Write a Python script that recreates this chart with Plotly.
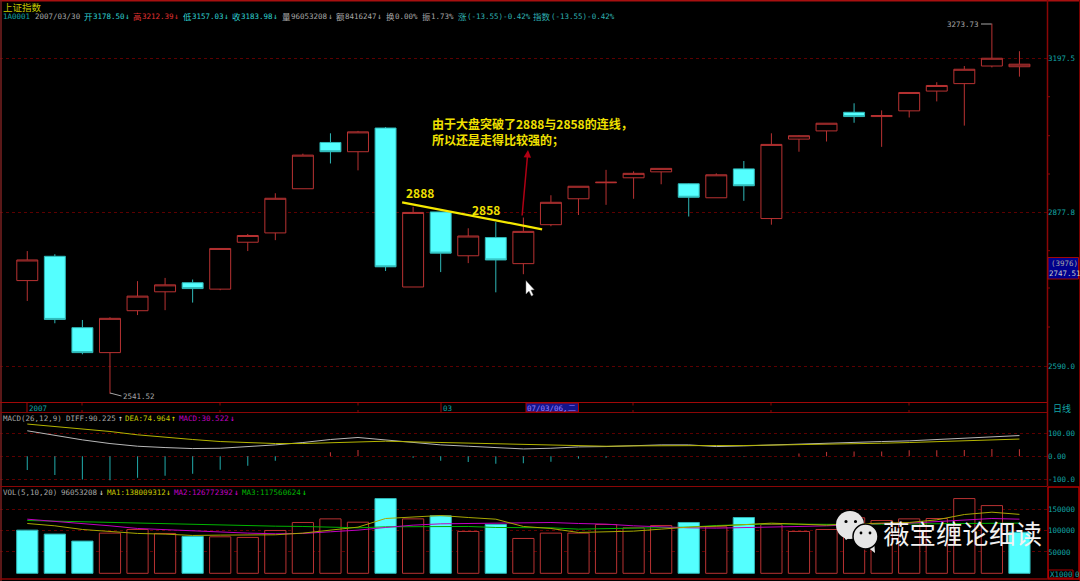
import plotly.graph_objects as go

W, H = 1080, 581

# ---------- data ----------
body_top = [2785,2792,2659,2676,2717,2738,2742,2807,2832,2905,2992,3018,3040,3048,2877,2878,2831,2828,2840,2897,2929,2937,2955,2965,2934,2952,2964,3014,3032,3058,3081,3074,3123,3138,3173,3197,3183.98]
body_bot = [2746,2674,2614,2614,2690,2725,2731,2730,2819,2837,2924,2999,2999,2772,2734,2798,2793,2785,2778,2853,2904,2936,2946,2958,2907,2906,2930,2865,3025,3042,3072,3072,3084,3126,3142,3180,3178.5]
high = [2802,2796,2673,2678,2745,2751,2748,2807,2835,2915,2995,3037,3042,3050,2888,2878,2846,2858,2867,2911,2929,2962,2959,2965,2935,2955,2980,3037,3033,3058,3100,3085,3123,3145,3180,3273.73,3212.39]
low = [2708,2667,2611,2541.52,2682,2691,2705,2728,2802,2823,2924,2975,2961,2764,2734,2762,2779,2724,2758,2850,2872,2892,2904,2933,2869,2906,2900,2853,2999,3020,3059,3009,3070,3104,3053,3177,3157.03]
falling = [1,2,6,11,13,15,17,24,26,30]

volume = [101100,91800,75400,94100,102600,93300,86300,85500,84000,100300,119000,127500,119700,175000,127500,134500,98000,114300,81600,94100,94100,114300,106500,112000,119000,108900,130600,114300,98000,102600,130000,123600,127500,128300,175000,158600,96053]
vol_down = [0,1,2,6,13,15,17,24,26,36]
vol_ma1 = [116640,111200,102640,97200,93310,91760,88650,89420,89420,90200,94090,101090,108090,128300,131410,135300,130640,126750,109640,104980,95640,97980,98760,103420,108090,110420,113530,117420,115090,112750,115860,116640,118970,125190,137640,143080,138009]
vol_ma2 = [126750,122080,115860,111200,104980,101870,98760,96420,94090,92530,93310,97200,101090,107310,112750,115860,116640,118970,118970,118970,116640,115090,111200,108090,106530,105750,106530,108090,109640,111200,114310,116640,117420,120530,124420,128300,126772]
vol_ma3 = [123650,122100,119750,118200,116650,115100,113550,112750,111200,110400,109650,108100,106550,108850,109650,109650,109650,107300,106550,106550,103400,105000,106550,107300,108100,111950,114300,115850,115100,114300,114300,115100,115850,116650,116650,116650,117560]

diff = [111.0,90.5,71.5,55.5,43.8,38.0,33.6,35.0,40.9,49.6,59.9,73.0,81.8,71.5,59.9,49.6,43.8,38.0,32.1,35.0,40.9,42.3,46.7,49.6,49.6,42.3,45.3,49.6,52.6,58.4,61.3,64.2,67.2,73.0,78.8,86.1,90.225]
dea = [140.2,129.9,119.7,108.0,93.4,81.8,73.0,64.2,58.4,55.5,55.5,59.9,64.2,65.7,62.8,59.9,55.5,52.6,49.6,46.7,43.8,43.8,45.3,46.7,46.7,46.7,46.7,48.2,49.6,51.1,54.0,56.9,59.9,64.2,68.6,73.0,74.964]
macd = [-59.9,-81.8,-100.7,-103.7,-93.4,-84.7,-75.9,-58.4,-40.9,-19.0,-1.5,17.5,27.7,0.0,-5.8,-19.0,-24.8,-32.1,-30.7,-23.4,-10.2,-5.8,1.5,1.5,0.0,0.0,-1.5,1.5,11.7,19.0,20.4,20.4,26.3,26.3,27.7,32.1,30.522]

trend_x = [13.6, 18.68]
trend_y = [2897, 2844]

days = list(range(len(high)))
opens = [body_top[i] if i in falling else body_bot[i] for i in days]
closes = [body_bot[i] if i in falling else body_top[i] for i in days]

# ---------- styling ----------
RED = "#b83232"
CYAN = "#54ffff"
TEAL = "#2fb8b8"
GRID = "#5c0000"
FRAME = "#8a0606"
LBL = "#12a5a5"
GRAY = "#a6a6a6"
YEL = "#c8c800"
MAG = "#c000c0"
GRN = "#00b400"
MONO = "DejaVu Sans Mono"
CJK = "Noto Sans CJK SC"

px = lambda x: x / W
py = lambda y: 1 - y / H

fig = go.Figure()
fig.add_trace(go.Candlestick(
    x=days, open=opens, high=high, low=low, close=closes,
    xaxis="x", yaxis="y", whiskerwidth=0,
    increasing=dict(line=dict(color=RED, width=1), fillcolor="#000000"),
    decreasing=dict(line=dict(color=TEAL, width=1), fillcolor=CYAN),
    showlegend=False, hoverinfo="skip"))
fig.add_trace(go.Scatter(x=trend_x, y=trend_y, mode="lines", xaxis="x", yaxis="y",
                         line=dict(color="#f5e800", width=2.2), showlegend=False))

fig.add_trace(go.Bar(x=days, y=macd, xaxis="x2", yaxis="y2", width=0.04,
                     marker=dict(color=[RED if v > 0 else "#1e9c9c" for v in macd], line=dict(width=0)),
                     showlegend=False))
fig.add_trace(go.Scatter(x=days, y=diff, mode="lines", xaxis="x2", yaxis="y2",
                         line=dict(color="#b8b8b8", width=1), showlegend=False))
fig.add_trace(go.Scatter(x=days, y=dea, mode="lines", xaxis="x2", yaxis="y2",
                         line=dict(color="#b4b400", width=1), showlegend=False))

fig.add_trace(go.Bar(x=days, y=volume, xaxis="x3", yaxis="y3", width=0.77,
                     marker=dict(color=[CYAN if i in vol_down else "#000000" for i in days],
                                 line=dict(color=[TEAL if i in vol_down else RED for i in days], width=1)),
                     showlegend=False))
for s, col in ((vol_ma3, GRN), (vol_ma2, MAG), (vol_ma1, "#a8a800")):
    fig.add_trace(go.Scatter(x=days, y=s, mode="lines", xaxis="x3", yaxis="y3",
                             line=dict(color=col, width=1), showlegend=False))

xr = [-0.99, 37.0]
xdom = [0, 1047 / W]
xcommon = dict(range=xr, domain=xdom, visible=False, fixedrange=True)
tickf = dict(family=MONO, size=7.5, color=LBL)
ycommon = dict(side="right", showgrid=True, gridcolor=GRID, griddash="dot", gridwidth=1,
               zeroline=False, showline=False, ticks="", tickfont=tickf, tickmode="array", fixedrange=True)

shapes = []
def line(x0, y0, x1, y1, color=FRAME, width=1, dash="solid", layer="above"):
    shapes.append(dict(type="line", xref="paper", yref="paper", x0=px(x0), x1=px(x1), y0=py(y0), y1=py(y1),
                       line=dict(color=color, width=width, dash=dash), layer=layer))
def rect(x0, y0, x1, y1, fill=None, color=FRAME, width=1):
    shapes.append(dict(type="rect", xref="paper", yref="paper", x0=px(x0), x1=px(x1), y0=py(y0), y1=py(y1),
                       fillcolor=fill if fill else "rgba(0,0,0,0)", line=dict(color=color, width=width), layer="above"))
def circle(cx, cy, r, fill, color=None, width=0):
    shapes.append(dict(type="circle", xref="paper", yref="paper", x0=px(cx - r), x1=px(cx + r), y0=py(cy + r), y1=py(cy - r),
                       fillcolor=fill, line=dict(color=color or fill, width=width), layer="above"))
def poly(points, fill, color=None, width=0):
    d = "M" + " L".join(f"{px(x):.5f},{py(y):.5f}" for x, y in points) + " Z"
    shapes.append(dict(type="path", xref="paper", yref="paper", path=d, fillcolor=fill,
                       line=dict(color=color or fill, width=width), layer="above"))

# frame
line(0, 0.7, 1080, 0.7, "#a81010", 1.5)
line(1, 0, 1, 581, "#7a2020", 1.5)
line(1079.5, 0, 1079.5, 581, "#7a0000", 1)
line(0, 402.5, 1047, 402.5, "#a00808", 1)
line(0, 412.5, 1047, 412.5, FRAME, 1)
line(0, 486.5, 1047, 486.5, FRAME, 1)
line(0, 579, 1047, 579, FRAME, 1.5)
line(1047.5, 0, 1047.5, 486, FRAME, 1.5)
rect(1048, 487, 1079, 579, None, "#b00000", 1.5)
rect(1048.5, 570, 1073, 578, None, "#b00000", 1)
# right-hand small ticks in the main panel
for yy in (96.7, 135.7, 174, 250.7, 288, 327):
    line(1047, yy, 1050, yy)
# date axis small ticks
for xx in (82, 220, 358, 633, 771, 909):
    line(xx, 403, xx, 405.5)
    line(xx, 410, xx, 412)
line(27, 403, 27, 412, "#a00808")
line(441, 403, 441, 412, "#a00808")
rect(526, 403, 578.5, 412, "#14148c", "#b00000", 1)
rect(1048, 257.5, 1078.5, 279, "#00008c", "#a00808", 1)

# leaders
line(110, 393, 121.5, 396, GRAY)
line(981, 24, 991.5, 24, GRAY)

# mouse pointer
poly([(526, 280.7), (526, 294), (529, 291), (531.5, 296), (533.2, 295), (530.8, 290), (534.2, 289.7)], "#ffffff", "#888888", 0.5)

# watermark logo
poly([(841, 533), (846, 540), (852, 536)], "#e6e6e6")
circle(850, 525, 14, "#e6e6e6")
circle(846, 521.5, 1.6, "#000000")
circle(855.5, 521.5, 1.6, "#000000")
poly([(874, 540), (875, 553), (866, 546)], "#e6e6e6")
circle(865.5, 536.5, 12.5, "#e6e6e6", "#000000", 1.5)
circle(861, 533, 1.4, "#000000")
circle(870, 533, 1.4, "#000000")

ann = []
def txt(x, y, s, color=GRAY, size=7.5, font=MONO, anchor="left", bold=False):
    ann.append(dict(xref="paper", yref="paper", x=px(x), y=py(y), text=f"<b>{s}</b>" if bold else s,
                    showarrow=False, xanchor=anchor, yanchor="middle",
                    font=dict(family=font, size=size, color=color), borderpad=0, borderwidth=0))

# header
txt(3, 7.5, "上证指数", "#c8c800", 9.5, CJK)
HY = 16.5
txt(3, HY, "1A0001", LBL)
txt(35, HY, "2007/03/30", GRAY)
for x, lab, val, col, acol in (
        (84, "开", "3178.50", "#2fd0d0", "#2fd0d0"),
        (133, "高", "3212.39", "#e03030", "#e03030"),
        (183, "低", "3157.03", "#2fd0d0", "#2fd0d0"),
        (232, "收", "3183.98", "#2fd0d0", "#2fd0d0"),
        (282, "量", "96053208", GRAY, GRAY),
        (336, "额", "8416247", GRAY, GRAY)):
    txt(x, HY, lab, col, 8.5, CJK)
    txt(x + 9, HY, val, col)
    txt(x + 9 + len(val) * 4.52 + 0.5, HY, "↓", acol, 8, MONO)
txt(386, HY, "换", GRAY, 8.5, CJK); txt(395, HY, "0.00%", GRAY)
txt(422, HY, "振", GRAY, 8.5, CJK); txt(431, HY, "1.73%", GRAY)
txt(458, HY, "涨", "#2fb0b0", 8.5, CJK); txt(467, HY, "(-13.55)-0.42%", "#2fb0b0")
txt(533, HY, "指数", "#2fb0b0", 8.5, CJK); txt(551, HY, "(-13.55)-0.42%", "#2fb0b0")

# price marks
txt(123, 396, "2541.52", GRAY)
txt(947, 24, "3273.73", GRAY)
txt(1050.5, 263, "(3976)", GRAY)
txt(1048.5, 274, "2747.51", "#c8c8c8")

# date axis
txt(28.5, 408, "2007", LBL)
txt(442.5, 408, "03", LBL)
txt(527, 408, "07/03/06,二", "#9a80ff", 7.5, MONO)
txt(1053, 408, "日线", LBL, 9, CJK)

# MACD header
MY = 418.5
txt(3, MY, "MACD(26,12,9)", GRAY)
txt(65.5, MY, "DIFF:90.225", GRAY); txt(118, MY, "↑", "#e0e0e0", 8)
txt(124.5, MY, "DEA:74.964", YEL); txt(171, MY, "↑", "#e0e000", 8)
txt(179, MY, "MACD:30.522", MAG); txt(230, MY, "↓", "#e000e0", 8)

# VOL header
VY = 492
txt(3, VY, "VOL(5,10,20)", GRAY)
txt(61, VY, "96053208", GRAY); txt(99, VY, "↓", "#e0e0e0", 8)
txt(107, VY, "MA1:138009312", YEL); txt(166, VY, "↓", "#e0e000", 8)
txt(174, VY, "MA2:126772392", MAG); txt(234, VY, "↓", "#e000e0", 8)
txt(242, VY, "MA3:117560624", GRN); txt(302, VY, "↓", "#00e000", 8)
txt(1049.5, 574.3, "X1000", LBL)
txt(1074.5, 574.3, "0", LBL)

# chart commentary
txt(406, 192, "2888", "#f0e000", 12, CJK, bold=True)
txt(472, 209.5, "2858", "#f0e000", 12, CJK, bold=True)
txt(432, 123, "由于大盘突破了2888与2858的连线，", "#f0e000", 12, CJK, bold=True)
txt(432, 139, "所以还是走得比较强的；", "#f0e000", 12, CJK, bold=True)

# commentary arrow
ann.append(dict(xref="paper", yref="paper", x=px(528), y=py(150), ax=-6, ay=67, text="",
                showarrow=True, arrowhead=2, arrowsize=1, arrowwidth=1.5, arrowcolor="#b00014"))

# watermark text
txt(883, 532, "薇宝缠论细读", "#f2f2f2", 26.5, CJK)

fig.update_layout(
    width=W, height=H, margin=dict(l=0, r=0, t=0, b=0, pad=0), autosize=False,
    paper_bgcolor="#000000", plot_bgcolor="rgba(0,0,0,0)", showlegend=False,
    boxgap=0.24, boxgroupgap=0, barmode="overlay",
    xaxis=dict(**xcommon, anchor="y", rangeslider=dict(visible=False)),
    xaxis2=dict(**xcommon, anchor="y2"),
    xaxis3=dict(**xcommon, anchor="y3"),
    yaxis=dict(**ycommon, anchor="x", type="log", domain=[1 - 403 / H, 1], range=[3.40234, 3.52204],
               tickvals=[2590.0, 2877.8, 3197.5], ticktext=["2590.0", "2877.8", "3197.5"]),
    yaxis2=dict(**ycommon, anchor="x2", domain=[1 - 487 / H, 1 - 413 / H], range=[-133.5, 188.3],
                tickvals=[-100, 0, 100], ticktext=["-100.0", "0.00", "100.00"]),
    yaxis3=dict(**ycommon, anchor="x3", domain=[1 - 579 / H, 1 - 487 / H], range=[-13350, 202100],
                tickvals=[50000, 100000, 150000], ticktext=["50000", "100000", "150000"]),
    shapes=shapes, annotations=ann, hovermode=False,
)

fig.write_html("out.html", config=dict(displayModeBar=False, staticPlot=True),
               post_script="document.body.style.margin='0';document.body.style.overflow='hidden';document.body.style.background='#000';")
